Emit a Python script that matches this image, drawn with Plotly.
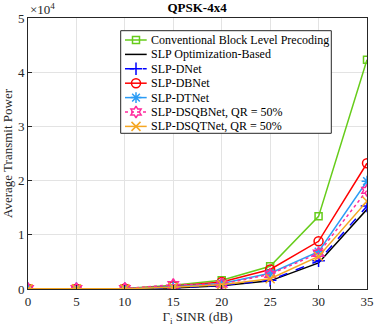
import plotly.graph_objects as go

sinr = [0, 5, 10, 15, 20, 25, 30, 35]

# average transmit power, in units of 1e4
conventional = [0.005, 0.005, 0.01, 0.07, 0.16, 0.42, 1.34, 4.23]
slp_opt = [0.003, 0.003, 0.005, 0.02, 0.06, 0.15, 0.48, 1.47]
slp_dnet = [0.003, 0.003, 0.005, 0.02, 0.07, 0.16, 0.52, 1.53]
slp_dbnet = [0.004, 0.004, 0.008, 0.05, 0.13, 0.36, 0.88, 2.32]
slp_dtnet = [0.004, 0.004, 0.007, 0.04, 0.10, 0.29, 0.69, 1.99]
slp_dsqbnet = [0.004, 0.004, 0.007, 0.08, 0.09, 0.27, 0.66, 1.82]
slp_dsqtnet = [0.003, 0.003, 0.006, 0.03, 0.08, 0.19, 0.60, 1.62]

series = [
    ("Conventional Block Level Precoding", conventional, "#66cc1a", "solid", "square-open", 7),
    ("SLP Optimization-Based", slp_opt, "#000000", "solid", None, 0),
    ("SLP-DNet", slp_dnet, "#0000ff", "dash", "cross-thin-open", 9),
    ("SLP-DBNet", slp_dbnet, "#ff0000", "solid", "circle-open", 9),
    ("SLP-DTNet", slp_dtnet, "#2b9cf5", "solid", "asterisk-open", 9),
    ("SLP-DSQBNet, QR = 50%", slp_dsqbnet, "#ff2a9d", "dot", "hexagram-open", 9),
    ("SLP-DSQTNet, QR = 50%", slp_dsqtnet, "#f5a623", "solid", "x-thin-open", 9),
]

SERIF = "Liberation Serif"
W, H = 374, 332
L, R, T, B = 28, 7, 18, 43
pw, ph = W - L - R, H - T - B


def px(x):
    return (x - L) / pw


def py(y):
    return (H - B - y) / ph


fig = go.Figure()
for name, vals, col, dash, sym, size in series:
    mode = "lines+markers" if sym else "lines"
    fig.add_trace(go.Scatter(
        x=sinr, y=vals, name=name, mode=mode, showlegend=False,
        line=dict(color=col, dash=dash, width=1.5),
        marker=dict(symbol=sym or "circle", size=size, color=col,
                    line=dict(color=col, width=1.5)),
    ))

# legend box drawn on an overlay axis (matlab-style compact legend)
bx0, bx1, by0, by1 = px(120.7), px(331.3), py(133.3), py(30.7)
fig.add_trace(go.Scatter(
    x=[bx0, bx1, bx1, bx0, bx0], y=[by0, by0, by1, by1, by0],
    xaxis="x2", yaxis="y2", mode="lines", fill="toself", fillcolor="white",
    line=dict(color="#262626", width=1), showlegend=False, hoverinfo="skip"))

annotations = []
for i, (name, vals, col, dash, sym, size) in enumerate(series):
    yy = py(40 + i * 14.4)
    fig.add_trace(go.Scatter(
        x=[px(125), px(146.7)], y=[yy, yy], xaxis="x2", yaxis="y2",
        mode="lines", line=dict(color=col, dash=dash, width=1.5),
        showlegend=False, hoverinfo="skip"))
    if sym:
        fig.add_trace(go.Scatter(
            x=[px(136)], y=[yy], xaxis="x2", yaxis="y2", mode="markers",
            marker=dict(symbol=sym, size=size, color=col, line=dict(color=col, width=1.5)),
            showlegend=False, hoverinfo="skip"))
    annotations.append(dict(text=name, xref="paper", yref="paper", x=px(149), y=yy,
                            xanchor="left", yanchor="middle", showarrow=False,
                            font=dict(family=SERIF, size=12, color="black")))

axis_common = dict(
    showline=True, mirror=True, linecolor="#262626", linewidth=1,
    ticks="inside", ticklen=4, tickcolor="#262626",
    showgrid=True, gridcolor="#e3e3e3", gridwidth=1,
    zeroline=False, automargin=False,
    tickfont=dict(family=SERIF, size=13, color="#262626"),
)

fig.update_layout(
    xaxis=dict(range=[0, 35], tickvals=sinr, **axis_common,
               title=dict(text="Γ<sub>i</sub> SINR (dB)", standoff=4,
                          font=dict(family=SERIF, size=13, color="#262626"))),
    yaxis=dict(range=[0, 5], tickvals=[0, 1, 2, 3, 4, 5], **axis_common,
               title=dict(text="Average Transmit Power", standoff=2,
                          font=dict(family=SERIF, size=13, color="#262626"))),
    xaxis2=dict(range=[0, 1], overlaying="x", visible=False, fixedrange=True),
    yaxis2=dict(range=[0, 1], overlaying="y", visible=False, fixedrange=True),
    width=W, height=H,
    margin=dict(l=L, r=R, t=T, b=B),
    paper_bgcolor="white", plot_bgcolor="white",
    title=dict(text="<b>QPSK-4x4</b>", x=0.527, xanchor="center", y=0.99, yanchor="top",
               font=dict(family=SERIF, size=13, color="black")),
    annotations=annotations + [
        dict(text="×10<sup>4</sup>", xref="paper", yref="paper",
             x=0, y=py(9), xanchor="left", yanchor="middle", showarrow=False,
             font=dict(family=SERIF, size=13, color="#262626"))],
    showlegend=False,
)

fig.write_html("out.html", config={"displayModeBar": False},
               post_script="document.body.style.margin='0';")
